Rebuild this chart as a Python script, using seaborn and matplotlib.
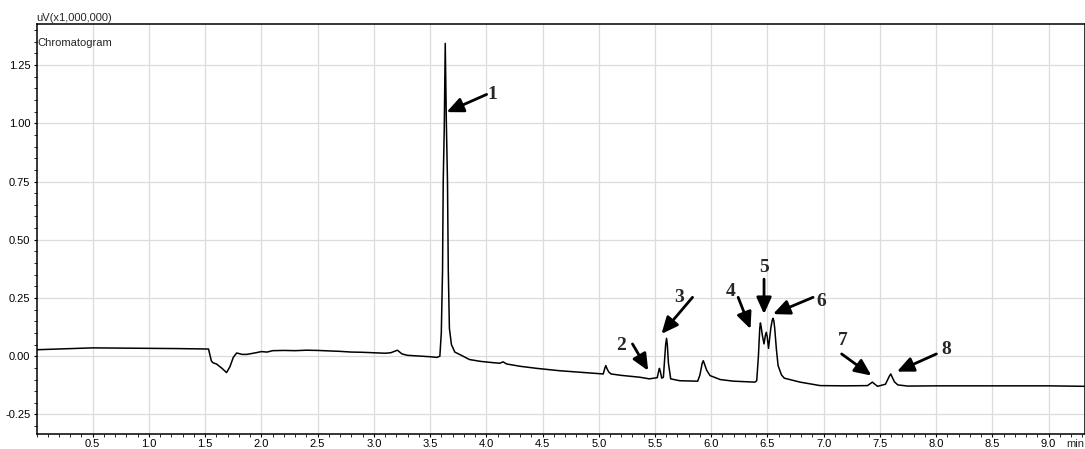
import numpy as np
import pandas as pd
import matplotlib
matplotlib.use("Agg")
import matplotlib.pyplot as plt
import seaborn as sns
from matplotlib.ticker import MultipleLocator

# ---- data ----
time_min = [0.00, 0.25, 0.50, 0.75, 1.00, 1.25, 1.53, 1.555, 1.57, 1.60, 1.65, 1.69, 1.72, 1.75,
            1.78, 1.83, 1.87, 1.95, 2.00, 2.05, 2.10, 2.20, 2.30, 2.40, 2.50, 2.60, 2.70, 2.80,
            2.90, 3.00, 3.10, 3.15, 3.21, 3.25, 3.30, 3.40, 3.50, 3.56, 3.587, 3.60, 3.611,
            3.617, 3.626, 3.635, 3.645, 3.655, 3.662, 3.672, 3.69, 3.72, 3.77, 3.85, 3.95,
            4.05, 4.12, 4.15, 4.18, 4.30, 4.45, 4.65, 4.85, 5.04, 5.055, 5.063, 5.075, 5.09,
            5.11, 5.20, 5.365, 5.45, 5.52, 5.535, 5.54, 5.55, 5.56, 5.575, 5.595, 5.603, 5.61,
            5.62, 5.64, 5.72, 5.88, 5.90, 5.92, 5.93, 5.945, 5.96, 5.99, 6.08, 6.20, 6.39,
            6.405, 6.42, 6.432, 6.438, 6.445, 6.455, 6.47, 6.482, 6.49, 6.498, 6.51, 6.53,
            6.543, 6.55, 6.558, 6.565, 6.58, 6.595, 6.625, 6.65, 6.79, 6.97, 7.20, 7.39,
            7.42, 7.434, 7.45, 7.48, 7.55, 7.585, 7.597, 7.61, 7.63, 7.66, 7.75, 8.00, 8.50,
            9.00, 9.32]
signal = [0.028, 0.032, 0.036, 0.035, 0.034, 0.033, 0.031, -0.020, -0.028, -0.033, -0.052, -0.070,
          -0.045, -0.005, 0.014, 0.008, 0.008, 0.015, 0.020, 0.018, 0.024, 0.025, 0.024, 0.026,
          0.025, 0.023, 0.021, 0.018, 0.017, 0.015, 0.013, 0.015, 0.026, 0.010, 0.004, 0.001,
          -0.002, -0.005, 0.000, 0.100, 0.370, 0.750, 0.970, 1.343, 1.000, 0.750, 0.370, 0.120,
          0.050, 0.018, 0.006, -0.014, -0.022, -0.027, -0.030, -0.024, -0.033, -0.043, -0.052,
          -0.062, -0.069, -0.076, -0.050, -0.040, -0.055, -0.068, -0.076, -0.082, -0.090,
          -0.097, -0.092, -0.060, -0.052, -0.070, -0.094, -0.090, 0.050, 0.077, 0.050, -0.030,
          -0.097, -0.105, -0.107, -0.080, -0.030, -0.019, -0.040, -0.060, -0.083, -0.100,
          -0.107, -0.111, -0.105, 0.000, 0.120, 0.143, 0.125, 0.090, 0.053, 0.090, 0.103,
          0.085, 0.034, 0.120, 0.155, 0.163, 0.150, 0.120, 0.030, -0.040, -0.080, -0.094,
          -0.111, -0.126, -0.127, -0.126, -0.116, -0.111, -0.118, -0.129, -0.120, -0.085,
          -0.076, -0.090, -0.110, -0.123, -0.128, -0.127, -0.127, -0.127, -0.129]

x_ticks = [0.5, 1.0, 1.5, 2.0, 2.5, 3.0, 3.5, 4.0, 4.5, 5.0, 5.5, 6.0, 6.5, 7.0, 7.5, 8.0, 8.5, 9.0]
x_tick_labels = ["0.5", "1.0", "1.5", "2.0", "2.5", "3.0", "3.5", "4.0", "4.5", "5.0",
                 "5.5", "6.0", "6.5", "7.0", "7.5", "8.0", "8.5", "9.0"]
y_ticks = [-0.25, 0.00, 0.25, 0.50, 0.75, 1.00, 1.25]
y_tick_labels = ["-0.25", "0.00", "0.25", "0.50", "0.75", "1.00", "1.25"]

peak_labels = ["1", "2", "3", "4", "5", "6", "7", "8"]
label_pos = [(4.05, 1.124), (5.197, 0.048), (5.71, 0.252), (6.175, 0.276),
             (6.468, 0.383), (6.983, 0.237), (7.17, 0.069), (8.09, 0.030)]
arrow_tail = [(4.003, 1.124), (5.30, 0.053), (5.834, 0.253), (6.24, 0.253),
              (6.47, 0.331), (6.906, 0.253), (7.16, 0.010), (8.003, 0.010)]
arrow_tip = [(3.647, 1.048), (5.44, -0.062), (5.558, 0.096), (6.35, 0.117),
             (6.47, 0.181), (6.55, 0.181), (7.425, -0.083), (7.652, -0.066)]

# ---- style ----
sns.set_style("white")
plt.rcParams["font.family"] = ["Liberation Sans", "DejaVu Sans"]

fig = plt.figure(figsize=(10.85, 4.49), dpi=100)
ax = fig.add_axes([36.5 / 1085, 1 - 434.3 / 449, (1084.5 - 36.5) / 1085, (434.3 - 24.3) / 449])

df = pd.DataFrame({"time": time_min, "signal": signal})
sns.lineplot(data=df, x="time", y="signal", ax=ax, color="black", linewidth=1.1,
             estimator=None, sort=False)

ax.set_xlim(0, 9.32)
ax.set_ylim(-0.335, 1.425)
ax.set_xlabel("")
ax.set_ylabel("")

ax.set_xticks(x_ticks)
ax.set_xticklabels(x_tick_labels)
ax.set_yticks(y_ticks)
ax.set_yticklabels(y_tick_labels)
ax.xaxis.set_minor_locator(MultipleLocator(0.1))
ax.yaxis.set_minor_locator(MultipleLocator(0.05))
ax.tick_params(axis="both", which="major", direction="out", length=2.5, width=0.8,
               labelsize=8, colors="black")
ax.tick_params(axis="x", which="major", pad=1)
ax.tick_params(axis="y", which="major", pad=2)
ax.tick_params(axis="both", which="minor", direction="out", length=2, width=0.7)
ax.tick_params(axis="x", which="both", bottom=True)
ax.tick_params(axis="y", which="both", left=True)

ax.grid(True, which="major", color="#dcdcdc", linewidth=0.9)
ax.set_axisbelow(True)
for s in ax.spines.values():
    s.set_color("black")
    s.set_linewidth(1.1)

ax.text(0.0, 1.004, "uV(x1,000,000)", transform=ax.transAxes, ha="left", va="bottom", fontsize=8)
ax.text(0.001, 0.955, "Chromatogram", transform=ax.transAxes, ha="left", va="center", fontsize=8)
ax.annotate("min", xy=(9.24, 0), xycoords=ax.get_xaxis_transform(), xytext=(0, -3.5),
            textcoords="offset points", ha="center", va="top", fontsize=8)

for lab, lp, tl, tp in zip(peak_labels, label_pos, arrow_tail, arrow_tip):
    ax.annotate("", xy=tp, xytext=tl,
                arrowprops=dict(arrowstyle="-|>,head_length=1.0,head_width=0.45",
                                mutation_scale=10, lw=2.0, color="black",
                                shrinkA=0, shrinkB=0))
    ax.text(lp[0], lp[1], lab, ha="center", va="center", fontsize=14, fontweight="bold",
            family=["Liberation Serif", "DejaVu Serif"])

fig.savefig("out.png", dpi=100)
